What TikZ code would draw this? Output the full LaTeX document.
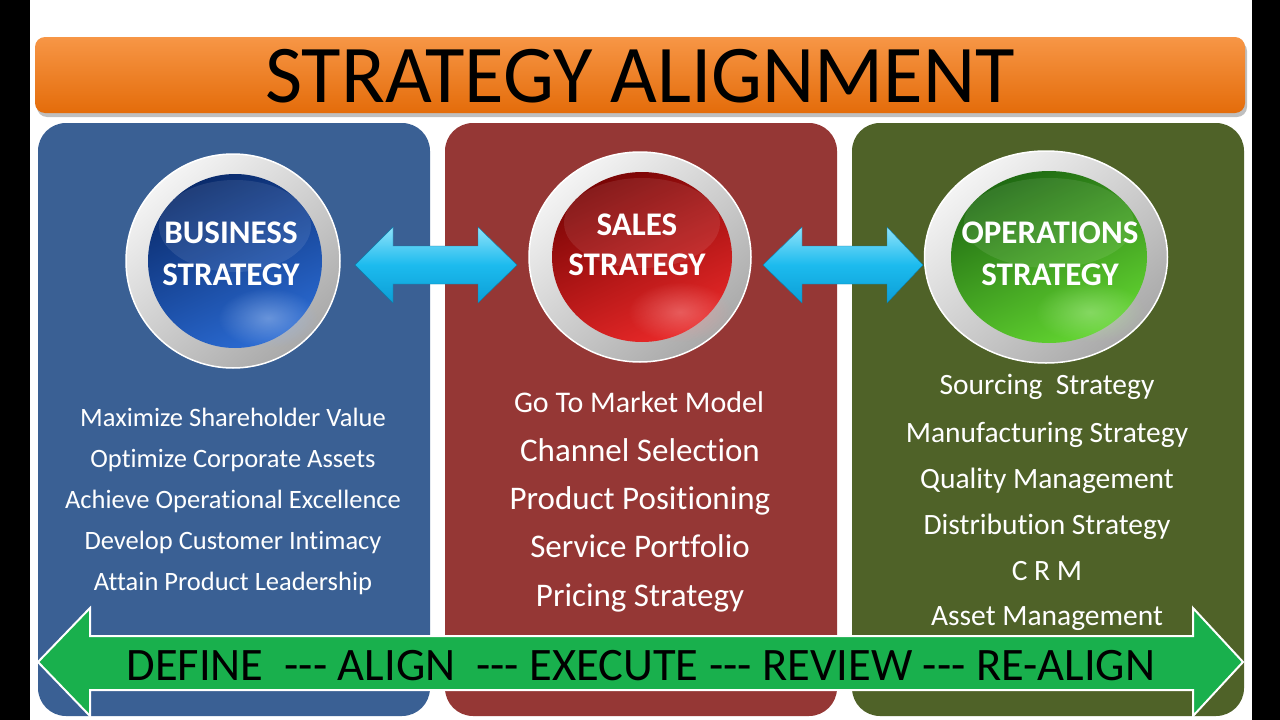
\documentclass[tikz,border=0pt]{standalone}
\usepackage{fontspec}
\setmainfont[Ligatures={NoCommon}]{Carlito}
\usetikzlibrary{shapes.geometric,fadings}
\definecolor{bluepanel}{HTML}{3A6094}
\definecolor{redpanel}{HTML}{953735}
\definecolor{greenpanel}{HTML}{4F6228}
\definecolor{titletop}{HTML}{F79646}
\definecolor{titlebot}{HTML}{E46C0A}
\definecolor{cyanmain}{HTML}{1CBBEE}
\definecolor{cyanlight}{HTML}{8FE2FA}
\definecolor{cyandark}{HTML}{0C9ED6}
\definecolor{greenarrow}{HTML}{19B04D}
\definecolor{ringlight}{HTML}{F4F4F4}
\definecolor{ringdark}{HTML}{A9A9A9}
\definecolor{bluedark}{HTML}{0A2B6C}
\definecolor{bluebright}{HTML}{2A6AD2}
\definecolor{reddark}{HTML}{7A0505}
\definecolor{redbright}{HTML}{E82828}
\definecolor{greendark}{HTML}{1F6A12}
\definecolor{greenbright}{HTML}{62D430}
\tikzfading[name=glowfade, inner color=transparent!0, outer color=transparent!100]
\begin{document}
\begin{tikzpicture}[x=1pt,y=-1pt,
  panelbox/.style={rounded corners=28pt},
  ringshape/.style={ellipse, inner sep=0pt, draw=white, line width=1.5pt,
    top color=ringlight, bottom color=ringdark, shading angle=40},
  discshape/.style={ellipse, inner sep=0pt},
  circtext/.style={font=\fontsize{33}{40}\selectfont\bfseries, text=white, anchor=base, inner sep=0pt},
  bluetext/.style={font=\fontsize{26.5}{30}\selectfont, text=white, anchor=base, inner sep=0pt},
  redtext/.style={font=\fontsize{33}{36}\selectfont, text=white, anchor=base, inner sep=0pt},
  greentext/.style={font=\fontsize{29.5}{32}\selectfont, text=white, anchor=base, inner sep=0pt},
  cyanblock/.style={top color=cyanlight, bottom color=cyandark, middle color=cyanmain, draw=cyandark!80!black, line width=0.4pt, line join=miter},
  gloss/.style={white, opacity=0.09},
]
\useasboundingbox (0,0) rectangle (1280,720);
\fill[white] (0,0) rectangle (1280,720);
\fill[black] (0,0) rectangle (30,720);
\fill[black] (1252,0) rectangle (1280,720);

% title bar
\fill[black, opacity=0.25, rounded corners=10pt] (37,41) rectangle (1247,117);
\path[rounded corners=10pt, top color=titletop, bottom color=titlebot] (35,37) rectangle (1245,113);
\node[anchor=base, inner sep=0pt, font=\fontsize{82}{90}\selectfont] (title) at (640,102)
  {\scalebox{0.985}[1]{STRATEGY ALIGNMENT}};

% panels
\fill[bluepanel, panelbox] (38,123) rectangle (430,716);
\fill[redpanel, panelbox] (445,123) rectangle (837,716);
\fill[greenpanel, panelbox] (852,123) rectangle (1244,716);

% business circle
\node[ringshape, minimum width=214pt, minimum height=214pt] (bring) at (233,261) {};
\node[discshape, minimum width=174pt, minimum height=174pt, top color=bluedark, bottom color=bluebright, shading angle=25] (bdisc) at (235,261) {};
\fill[bluebright!50!white, opacity=0.6, path fading=glowfade] (268,318) ellipse [x radius=50, y radius=30];
\fill[gloss] (235,226) ellipse [x radius=76, y radius=46];
\node[circtext] (bizA) at (231,243) {BUSINESS};
\node[circtext] (bizB) at (231,285) {STRATEGY};

% sales circle
\node[ringshape, minimum width=222pt, minimum height=210pt] (sring) at (640,257) {};
\node[discshape, minimum width=180pt, minimum height=170pt, top color=reddark, bottom color=redbright, shading angle=25] (sdisc) at (642,257) {};
\fill[redbright!50!white, opacity=0.5, path fading=glowfade] (680,312) ellipse [x radius=52, y radius=30];
\fill[gloss] (642,223) ellipse [x radius=78, y radius=45];
\node[circtext] (salA) at (637,235) {SALES};
\node[circtext] (salB) at (637,275) {STRATEGY};

% operations circle
\node[ringshape, minimum width=243pt, minimum height=212pt] (oring) at (1046,257) {};
\node[discshape, minimum width=196pt, minimum height=172pt, top color=greendark, bottom color=greenbright, shading angle=25] (odisc) at (1049,257) {};
\fill[greenbright!50!white, opacity=0.5, path fading=glowfade] (1090,312) ellipse [x radius=55, y radius=30];
\fill[gloss] (1049,223) ellipse [x radius=85, y radius=45];
\node[circtext] (opA) at (1050,243) {OPERATIONS};
\node[circtext] (opB) at (1050,285) {STRATEGY};

% cyan double arrows
\path[cyanblock] (355,265) -- (393,227) -- (393,246) -- (478,246) -- (478,227) -- (517,265)
  -- (478,303) -- (478,284) -- (393,284) -- (393,303) -- cycle;
\path[cyanblock] (763,265) -- (802,227) -- (802,246) -- (887,246) -- (887,227) -- (923,265)
  -- (887,303) -- (887,284) -- (802,284) -- (802,303) -- cycle;

% business list
\node[bluetext] (b1) at (233,426) {Maximize Shareholder Value};
\node[bluetext] (b2) at (233,467) {Optimize Corporate Assets};
\node[bluetext] (b3) at (233,508) {Achieve Operational Excellence};
\node[bluetext] (b4) at (233,549) {Develop Customer Intimacy};
\node[bluetext] (b5) at (233,590) {Attain Product Leadership};

% sales list
\node[redtext, font=\fontsize{30}{33}\selectfont] (s1) at (639,412) {Go To Market Model};
\node[redtext] (s2) at (640,461) {Channel Selection};
\node[redtext] (s3) at (640,509) {Product Positioning};
\node[redtext] (s4) at (640,557) {Service Portfolio};
\node[redtext] (s5) at (640,606) {Pricing Strategy};

% operations list
\node[greentext] (g1) at (1047,394) {Sourcing\ \ Strategy};
\node[greentext] (g2) at (1047,442) {Manufacturing Strategy};
\node[greentext] (g3) at (1047,488) {Quality Management};
\node[greentext] (g4) at (1047,534) {Distribution Strategy};
\node[greentext] (g5) at (1047,580) {C R M};
\node[greentext] (g6) at (1047,625) {Asset Management};

% bottom green double arrow
\draw[white, line width=2pt, fill=greenarrow, line join=miter]
  (38,662) -- (90,608) -- (90,636) -- (1193,636) -- (1193,608) -- (1243,662)
  -- (1193,716) -- (1193,690) -- (90,690) -- (90,716) -- cycle;
\node[anchor=base, inner sep=0pt, font=\fontsize{46.5}{50}\selectfont] (cycle) at (641,680)
  {DEFINE\ \ -{}-{}- ALIGN\ \ -{}-{}- EXECUTE -{}-{}- REVIEW -{}-{}- RE-ALIGN};
\end{tikzpicture}
\end{document}
